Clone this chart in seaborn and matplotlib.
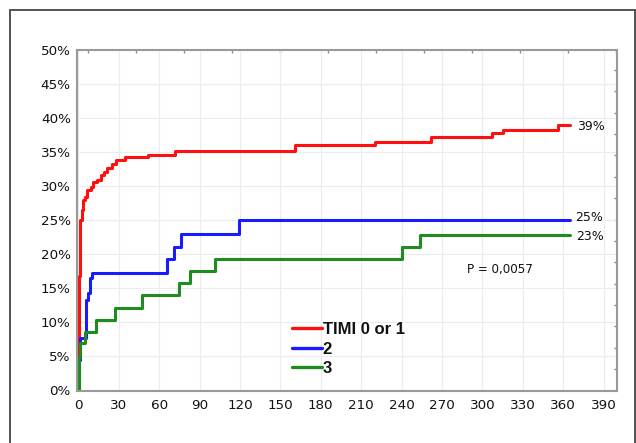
import numpy as np
import pandas as pd
import matplotlib
matplotlib.use("Agg")
import matplotlib.pyplot as plt
import matplotlib.ticker as mticker
from matplotlib.patches import Rectangle
from matplotlib.lines import Line2D
import seaborn as sns

# ---- data ----
groups = ["TIMI 0 or 1", "2", "3"]
red_t = [0, 0.2, 0.5, 1.0, 2.5, 3.5, 5, 6.7, 9.1, 10.9, 14.1, 16.6, 19, 21.5, 25.2,
         27.7, 35, 52, 72, 161, 220, 262, 307, 315.5, 356, 365]
red_p = [0.0, 0.08, 0.167, 0.25, 0.265, 0.279, 0.284, 0.294, 0.299, 0.306, 0.309,
         0.316, 0.321, 0.326, 0.333, 0.338, 0.343, 0.346, 0.352, 0.360, 0.365,
         0.3725, 0.378, 0.383, 0.390, 0.390]
blue_t = [0, 0.5, 1.0, 5.4, 5.9, 7.4, 8.4, 9.0, 9.9, 65.8, 71.2, 76.2, 119, 365]
blue_p = [0.0, 0.044, 0.076, 0.083, 0.132, 0.142, 0.154, 0.164, 0.1725, 0.192,
          0.211, 0.230, 0.25, 0.25]
green_t = [0, 0.2, 0.5, 1.2, 5, 12.9, 27.2, 47.3, 74.4, 82.6, 101.6, 240, 253.7, 365]
green_p = [0.0, 0.029, 0.049, 0.069, 0.086, 0.103, 0.121, 0.140, 0.157, 0.175,
           0.192, 0.21, 0.228, 0.228]
end_labels = ["39%", "25%", "23%"]
p_text = "P = 0,0057"
x_ticks = list(range(0, 391, 30))
y_ticks = [0.0, 0.05, 0.10, 0.15, 0.20, 0.25, 0.30, 0.35, 0.40, 0.45, 0.50]
colors = ["#ff1010", "#1a1aff", "#1e8c1e"]

df = pd.concat([
    pd.DataFrame({"t": red_t, "p": red_p, "group": groups[0]}),
    pd.DataFrame({"t": blue_t, "p": blue_p, "group": groups[1]}),
    pd.DataFrame({"t": green_t, "p": green_p, "group": groups[2]}),
], ignore_index=True)

sns.set_style("white")
plt.rcParams["font.family"] = ["DejaVu Sans"]

fig = plt.figure(figsize=(6.36, 4.43), dpi=100)
fig.patch.set_facecolor("white")
ax = fig.add_axes([77 / 636, 1 - 391 / 443, 540 / 636, 341 / 443])

sns.lineplot(data=df, x="t", y="p", hue="group", hue_order=groups,
             palette=colors, estimator=None, drawstyle="steps-post",
             linewidth=2.2, ax=ax, legend=False)

ax.set_xlim(-1, 400)
ax.set_ylim(-0.0015, 0.5)
ax.set_xticks(x_ticks)
ax.set_yticks(y_ticks)
ax.yaxis.set_major_formatter(mticker.PercentFormatter(1.0, decimals=0))
ax.set_xlabel("")
ax.set_ylabel("")
ax.grid(True, color="#ececec", linewidth=0.8)
ax.set_axisbelow(True)
for s in ax.spines.values():
    s.set_color("#9a9a9a")
    s.set_linewidth(1.5)
ax.tick_params(axis="both", direction="in", length=2.5, width=1.0,
               color="#888888", labelsize=9.7, labelcolor="#111111", pad=4.5)
ax.tick_params(axis="x", pad=6)

# minor tick marks on top and right spines
top = ax.secondary_xaxis("top")
top.set_xticks(np.arange(7.5, 400, 35.6))
top.tick_params(direction="in", length=2.5, width=1.0, color="#888888",
                labeltop=False)
top.spines["top"].set_visible(False)
right = ax.secondary_yaxis("right")
right.set_yticks(np.arange(0.0305, 0.5, 0.03145))
right.tick_params(direction="in", length=2.5, width=1.0, color="#888888",
                  labelright=False)
right.spines["right"].set_visible(False)

# end labels
ends = [(370.4, 0.388), (368.6, 0.254), (369.8, 0.226)]
for (xx, yy), lab in zip(ends, end_labels):
    ax.text(xx, yy, lab, fontsize=9, va="center", ha="left", color="#111111")
ax.text(288.6, 0.1765, p_text, fontsize=8.6, va="center", ha="left",
        color="#111111")

handles = [Line2D([0], [0], color=c, lw=2.4) for c in colors]
leg = ax.legend(handles, groups, loc="upper left",
                bbox_to_anchor=((292 - 77) / 540, (391 - 322) / 341),
                frameon=False, handlelength=1.8, handletextpad=0.05,
                borderpad=0, borderaxespad=0, labelspacing=0.27,
                prop={"family": "Liberation Sans", "weight": "bold", "size": 12})
for t in leg.get_texts():
    t.set_color("#111111")

# outer frame of the figure
fig.patches.append(Rectangle((10 / 636, -0.05), (634.5 - 10) / 636,
                             1.05 - 10 / 443, transform=fig.transFigure,
                             fill=False, edgecolor="#444444", linewidth=1.3))

fig.savefig("out.png", dpi=100, facecolor="white")
